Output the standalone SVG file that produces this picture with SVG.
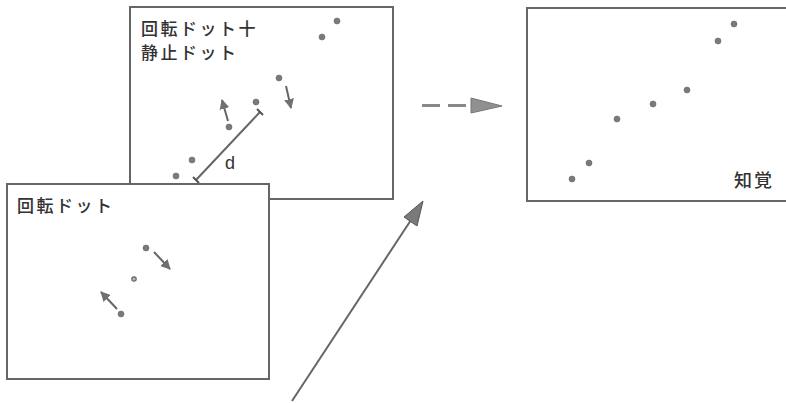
<svg xmlns="http://www.w3.org/2000/svg" width="786" height="403" viewBox="0 0 786 403">
<style>
.panel{fill:#fff;stroke:#666;stroke-width:2}
.dot{fill:#7a7a7a;stroke:#666;stroke-width:0.6}
.lbl{font-family:"Noto Sans CJK JP","Noto Sans",sans-serif;font-size:17px;font-weight:500;fill:#333;letter-spacing:2.5px}
.mv{stroke:#666;stroke-width:2;fill:none;marker-end:url(#sh)}
.conn{stroke:#666;stroke-width:2;fill:none}
</style>
<defs>
<marker id="sh" viewBox="0 0 10 10" refX="9" refY="5" markerWidth="5" markerHeight="5" orient="auto" markerUnits="strokeWidth">
<path d="M0,0 L10,5 L0,10 z" fill="#707070"/>
</marker>
</defs>
<g id="panel-combined">
<rect class="panel" x="130" y="7" width="263" height="192"/>
<text class="lbl" x="141" y="35">回転ドット十</text>
<text class="lbl" x="141" y="59">静止ドット</text>
<circle class="dot" cx="337" cy="21" r="3"/>
<circle class="dot" cx="322" cy="37" r="3"/>
<circle class="dot" cx="279" cy="78" r="3"/>
<circle class="dot" cx="256" cy="102" r="3"/>
<circle class="dot" cx="229" cy="127" r="3"/>
<circle class="dot" cx="192" cy="160" r="3"/>
<circle class="dot" cx="176" cy="176" r="3"/>
<path class="mv" d="M228,121 L222,100"/>
<path class="mv" d="M286,86 L291,108"/>
<g id="distance">
<path d="M196,180 L260,112" stroke="#666" stroke-width="2"/>
<path d="M193,177 L199,183 M257,109 L263,115" stroke="#555" stroke-width="2"/>
<text x="225" y="169" font-family="'Liberation Sans',Arial,sans-serif" font-size="18" fill="#333">d</text>
</g>
</g>
<g id="panel-rotating">
<rect class="panel" x="7" y="184" width="262" height="195"/>
<text class="lbl" x="17" y="212">回転ドット</text>
<circle class="dot" cx="146" cy="248" r="3"/>
<circle cx="134" cy="279" r="2.2" fill="#bbb" stroke="#666" stroke-width="1.2"/>
<circle class="dot" cx="121" cy="314" r="3"/>
<path class="mv" d="M154,252 L170,269"/>
<path class="mv" d="M117,309 L101,292"/>
</g>
<g id="panel-percept">
<rect class="panel" x="527" y="8" width="265" height="193"/>
<circle class="dot" cx="734" cy="24" r="3"/>
<circle class="dot" cx="718" cy="41" r="3"/>
<circle class="dot" cx="687" cy="90" r="3"/>
<circle class="dot" cx="653" cy="104" r="3"/>
<circle class="dot" cx="617" cy="119" r="3"/>
<circle class="dot" cx="589" cy="163" r="3"/>
<circle class="dot" cx="572" cy="179" r="3"/>
<text class="lbl" x="734" y="187" style="letter-spacing:2px;font-size:18px">知覚</text>
</g>
<g id="connectors">
<path d="M422,105.5 L440,105.5 M448,105.5 L466,105.5" stroke="#888" stroke-width="3"/>
<path d="M471,98 L502,106 L471,113 z" fill="#909090" stroke="#777" stroke-width="1"/>
<path class="conn" d="M292,401 L411,220"/>
<path d="M423,201 L404,217 L417,226 z" fill="#7a7a7a" stroke="#555" stroke-width="1"/>
</g>
</svg>
